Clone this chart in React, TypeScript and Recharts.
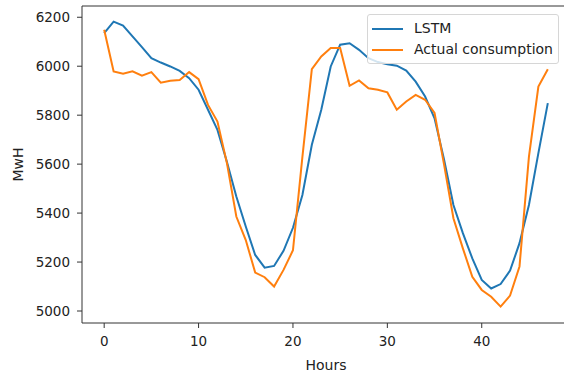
import { LineChart, Line, XAxis, YAxis, Label, ReferenceLine } from "recharts";

const hours = [
  0, 1, 2, 3, 4, 5, 6, 7, 8, 9, 10, 11, 12, 13, 14, 15, 16, 17, 18, 19, 20, 21, 22, 23,
  24, 25, 26, 27, 28, 29, 30, 31, 32, 33, 34, 35, 36, 37, 38, 39, 40, 41, 42, 43, 44, 45, 46, 47,
];

const lstm = [
  6135, 6182, 6166, 6122, 6078, 6033, 6015, 5999, 5981, 5951, 5904, 5822, 5740, 5610, 5468, 5345,
  5229, 5177, 5184, 5246, 5340, 5474, 5679, 5822, 5999, 6088, 6094, 6067, 6033, 6017, 6008, 6002,
  5982, 5937, 5876, 5787, 5620, 5433, 5318, 5215, 5127, 5092, 5110, 5165, 5277, 5433, 5645, 5849,
];

const actual = [
  6149, 5979, 5969, 5979, 5961, 5976, 5933, 5941, 5944, 5976, 5947, 5842, 5774, 5605, 5386, 5290,
  5157, 5138, 5100, 5168, 5248, 5630, 5988, 6040, 6074, 6074, 5920, 5942, 5910, 5904, 5893, 5822,
  5856, 5883, 5863, 5809, 5600, 5379, 5256, 5140, 5086, 5058, 5018, 5063, 5182, 5631, 5917, 5988,
];

const xTicks = [0, 10, 20, 30, 40];
const yTicks = [5000, 5200, 5400, 5600, 5800, 6000, 6200];

const seriesNames = ["LSTM", "Actual consumption"];
const BLUE = "#1f77b4";
const ORANGE = "#ff7f0e";
const AXIS = "#333";
const FONT = "DejaVu Sans, sans-serif";
const Y_MIN = 4951;
const Y_MAX = 6246;

const data = hours.map((h, i) => ({ hour: h, lstm: lstm[i], actual: actual[i] }));

function MplLegend() {
  const colors = [BLUE, ORANGE];
  return (
    <div
      style={{
        position: "absolute",
        left: 367,
        top: 14,
        border: "1px solid #d6d6d6",
        borderRadius: 3,
        background: "rgba(255,255,255,0.8)",
        padding: "3px 5px 3px 4px",
        fontFamily: FONT,
        fontSize: 14,
        color: "#222",
        lineHeight: "21px",
      }}
    >
      {seriesNames.map((name, i) => (
        <div key={name} style={{ display: "flex", alignItems: "center" }}>
          <span style={{ display: "inline-block", width: 31, height: 2, background: colors[i], marginRight: 11 }} />
          <span>{name}</span>
        </div>
      ))}
    </div>
  );
}

export default function App() {
  return (
    <div style={{ position: "absolute", left: 0, top: 0, width: 564, height: 373, overflow: "hidden", background: "#fff" }}>
      <LineChart width={575} height={373} data={data} margin={{ top: 6, right: 5, bottom: 0, left: 0 }}>
        <XAxis
          dataKey="hour"
          type="number"
          domain={[-2.35, 49.35]}
          ticks={xTicks}
          allowDataOverflow
          height={50}
          tickSize={5}
          tickMargin={8}
          stroke={AXIS}
          tick={{ fill: "#222", fontSize: 13.5, fontFamily: FONT }}
        >
          <Label
            content={({ viewBox }: any) => (
              <text
                x={viewBox.x + viewBox.width / 2}
                y={370}
                textAnchor="middle"
                fill="#222"
                fontSize={14}
                fontFamily={FONT}
              >
                Hours
              </text>
            )}
          />
        </XAxis>
        <YAxis
          type="number"
          domain={[Y_MIN, Y_MAX]}
          ticks={yTicks}
          allowDataOverflow
          width={82}
          tickSize={5}
          tickMargin={7}
          stroke={AXIS}
          tick={{ fill: "#222", fontSize: 13.5, fontFamily: FONT }}
        >
          <Label
            content={({ viewBox }: any) => (
              <text
                x={18}
                y={viewBox.y + viewBox.height / 2}
                transform={`rotate(-90, 18, ${viewBox.y + viewBox.height / 2})`}
                textAnchor="middle"
                dominantBaseline="central"
                fill="#222"
                fontSize={14}
                fontFamily={FONT}
              >
                MwH
              </text>
            )}
          />
        </YAxis>
        <ReferenceLine y={Y_MAX} stroke={AXIS} strokeWidth={1} ifOverflow="visible" />
        <Line
          type="linear"
          dataKey="lstm"
          name={seriesNames[0]}
          stroke={BLUE}
          strokeWidth={2}
          dot={false}
          isAnimationActive={false}
        />
        <Line
          type="linear"
          dataKey="actual"
          name={seriesNames[1]}
          stroke={ORANGE}
          strokeWidth={2}
          dot={false}
          isAnimationActive={false}
        />
      </LineChart>
      <MplLegend />
    </div>
  );
}
